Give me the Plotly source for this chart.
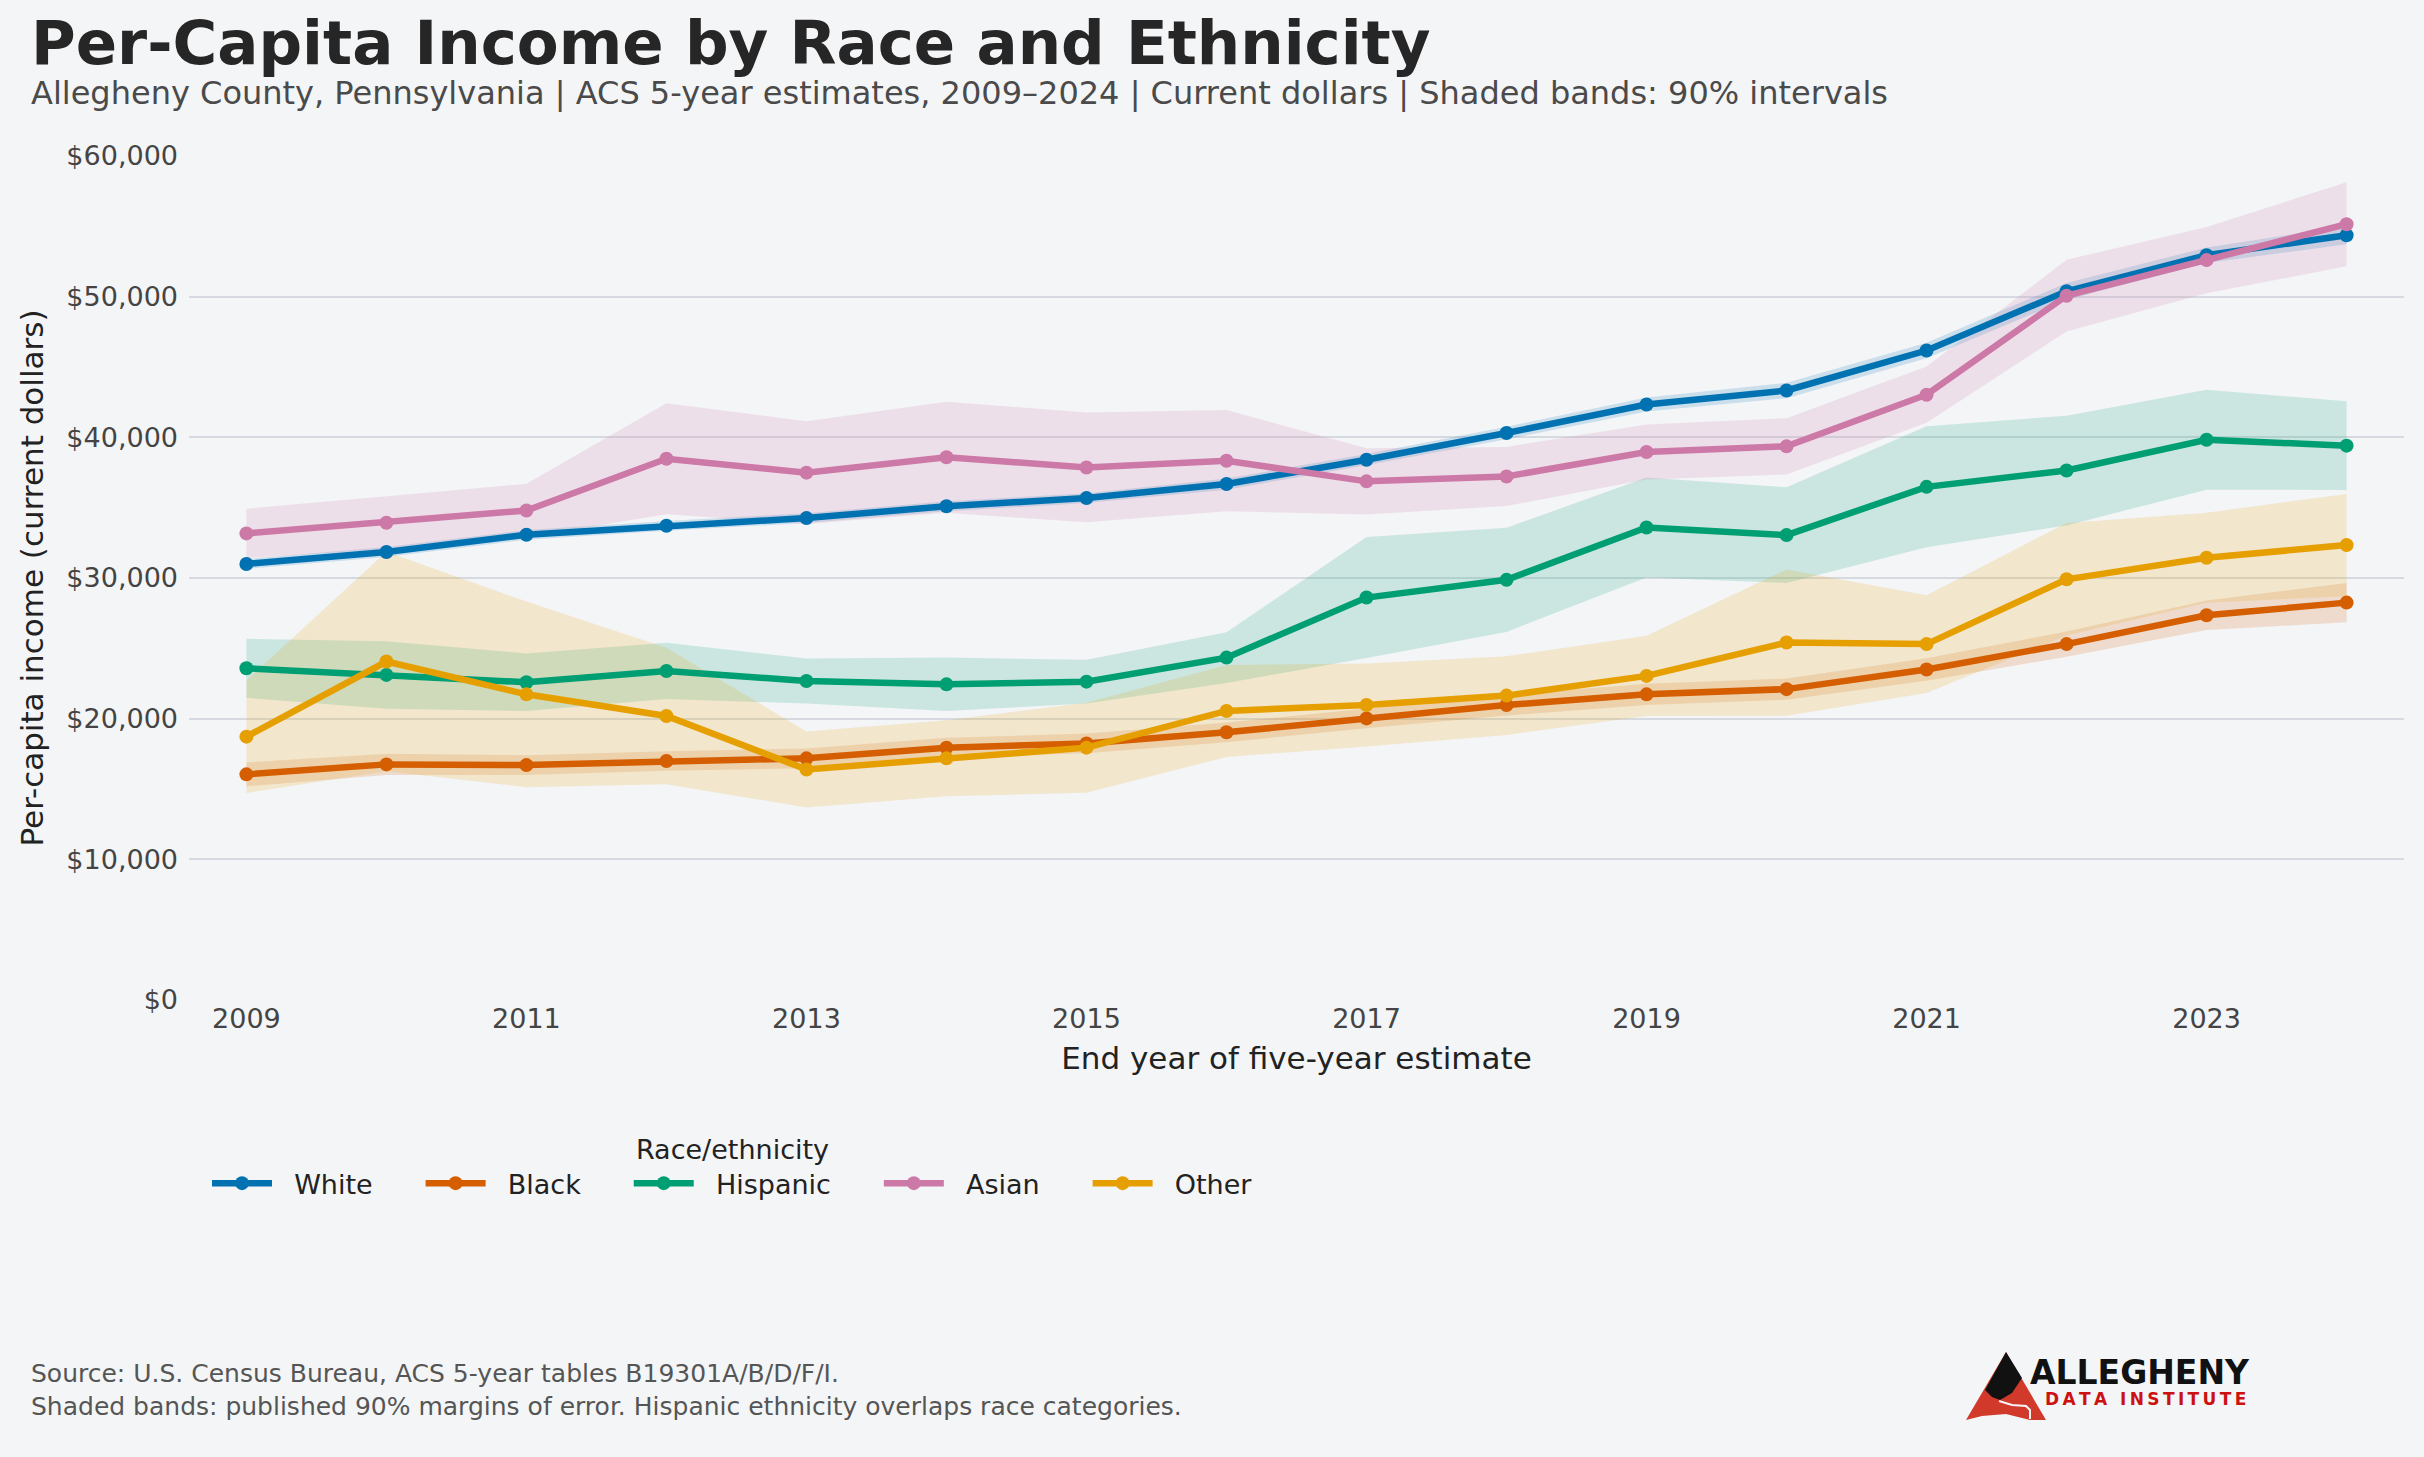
import plotly.graph_objects as go

# ACS 5-year per-capita income, current dollars
years = list(range(2009, 2025))

white = [31000, 31850, 33070, 33710, 34260, 35100, 35680, 36680,
         38410, 40310, 42330, 43330, 46170, 50380, 52950, 54370]
white_moe = [350, 350, 350, 350, 350, 350, 350, 400,
             400, 450, 500, 550, 550, 600, 550, 650]

black = [16040, 16750, 16700, 16990, 17180, 17940, 18240, 19030,
         20020, 20970, 21730, 22100, 23500, 25300, 27350, 28250]
black_moe = [850, 750, 700, 700, 700, 700, 700, 700,
             700, 750, 750, 750, 800, 900, 1050, 1400]

hispanic = [23580, 23110, 22590, 23390, 22680, 22440, 22630, 24340,
            28610, 29870, 33590, 33050, 36480, 37640, 39830, 39410]
hispanic_moe = [2100, 2400, 2050, 2000, 1600, 1900, 1550, 1800,
                4300, 3700, 3550, 3400, 4300, 3900, 3550, 3150]

asian = [33170, 33930, 34800, 38480, 37490, 38580, 37860, 38340,
         36870, 37220, 38960, 39360, 43030, 50070, 52600, 55150]
asian_moe = [1750, 1900, 1900, 3950, 3650, 3950, 3900, 3600,
             2350, 2100, 1950, 2000, 2000, 2550, 2360, 2980]

other = [18720, 24060, 21730, 20190, 16390, 17180, 17940, 20550,
         20970, 21640, 23040, 25410, 25300, 29910, 31440, 32340]
other_moe = [4000, 7800, 6600, 4850, 2700, 2700, 3200, 3270,
             2950, 2800, 2850, 5200, 3470, 4000, 3200, 3640]

groups = ["White", "Black", "Hispanic", "Asian", "Other"]
colors = ["#0072B2", "#D55E00", "#009E73", "#CC79A7", "#E69F00"]
values = [white, black, hispanic, asian, other]
moes = [white_moe, black_moe, hispanic_moe, asian_moe, other_moe]

W, H = 2424, 1457
L, R, T, B = 189, 20, 156, 457
FONT = "DejaVu Sans"
BG = "#f4f5f7"
NBSP = "\u00a0"


def px_x(px):
    # page pixel -> paper x
    return (px - L) / (W - L - R)


def px_y(py):
    # page pixel -> paper y
    return (H - B - py) / (H - B - T)


def rgba(hex_color, alpha):
    h = hex_color.lstrip("#")
    r, g, b = int(h[0:2], 16), int(h[2:4], 16), int(h[4:6], 16)
    return f"rgba({r},{g},{b},{alpha})"


fig = go.Figure()

# shaded 90% bands first
for name, vals, moe, color in zip(groups, values, moes, colors):
    upper = [v + m for v, m in zip(vals, moe)]
    lower = [v - m for v, m in zip(vals, moe)]
    fig.add_trace(
        go.Scatter(
            x=years + years[::-1],
            y=upper + lower[::-1],
            fill="toself",
            fillcolor=rgba(color, 0.17),
            line=dict(width=0),
            hoverinfo="skip",
            showlegend=False,
        )
    )

for i, (name, vals, color) in enumerate(zip(groups, values, colors)):
    # pad legend labels so the entries spread out like the original
    label = NBSP * 2 + name
    if i < len(groups) - 1:
        label += NBSP * 5
    fig.add_trace(
        go.Scatter(
            x=years,
            y=vals,
            mode="lines+markers",
            name=label,
            line=dict(color=color, width=6.5),
            marker=dict(color=color, size=14),
        )
    )

fig.update_xaxes(
    range=[2008.59, 2024.41],
    tick0=2009,
    dtick=2,
    showgrid=False,
    zeroline=False,
    showline=False,
    tickfont=dict(size=27, color="#444444"),
    title=dict(text="End year of five-year estimate",
               font=dict(size=31, color="#222222"), standoff=14),
)
fig.update_yaxes(
    range=[0, 60000],
    tickvals=[0, 10000, 20000, 30000, 40000, 50000, 60000],
    tickformat="$,",
    showgrid=True,
    gridcolor="#d6dae0",
    gridwidth=2,
    zeroline=False,
    showline=False,
    ticklabelstandoff=10,
    tickfont=dict(size=27, color="#444444"),
    title=dict(text="Per-capita income (current dollars)",
               font=dict(size=31, color="#222222"), standoff=13),
)

annotations = [
    dict(text="<b>Per-Capita Income by Race and Ethnicity</b>",
         x=px_x(29), y=px_y(43), xanchor="left", yanchor="middle",
         font=dict(size=61, color="#262626")),
    dict(text="Allegheny County, Pennsylvania | ACS 5-year estimates, 2009–2024 | "
              "Current dollars | Shaded bands: 90% intervals",
         x=px_x(29), y=px_y(93), xanchor="left", yanchor="middle",
         font=dict(size=32, color="#4a4a4a")),
    dict(text="Source: U.S. Census Bureau, ACS 5-year tables B19301A/B/D/F/I.<br>"
              "Shaded bands: published 90% margins of error. "
              "Hispanic ethnicity overlaps race categories.",
         x=px_x(29), y=px_y(1390), xanchor="left", yanchor="middle", align="left",
         font=dict(size=25, color="#555555")),
    dict(text="<b>ALLEGHENY</b>",
         x=px_x(2140), y=px_y(1372), xanchor="center", yanchor="middle",
         font=dict(size=33, color="#111111")),
    dict(text="<b>" + "\u2009".join("DATA INSTITUTE") + "</b>",
         x=px_x(2145), y=px_y(1399), xanchor="center", yanchor="middle",
         font=dict(size=17, color="#cc1111")),
]
for a in annotations:
    a.update(xref="paper", yref="paper", showarrow=False)
    a["font"]["family"] = FONT


def path(points, close=True):
    s = "M " + " L ".join(f"{px_x(x):.5f},{px_y(y):.5f}" for x, y in points)
    return s + (" Z" if close else "")


shapes = [
    # red triangle of the logo
    dict(type="path",
         path=path([(2006, 1352), (2046, 1420), (2030, 1420), (2006, 1414),
                    (1982, 1416), (1966, 1420)]),
         fillcolor="#d13a2b", line=dict(width=0)),
    # black cap of the logo
    dict(type="path",
         path=path([(2006, 1352), (2022, 1378), (2012, 1393), (2000, 1400),
                    (1992, 1397), (1985, 1390)]),
         fillcolor="#111111", line=dict(width=0)),
    # white river line
    dict(type="path",
         path=path([(1999, 1401), (2012, 1405), (2026, 1406), (2030, 1410),
                    (2030, 1419)], close=False),
         line=dict(color="#f4f5f7", width=2)),
]
for s in shapes:
    s.update(xref="paper", yref="paper", layer="above")

fig.update_layout(
    width=W,
    height=H,
    margin=dict(l=L, r=R, t=T, b=B),
    paper_bgcolor=BG,
    plot_bgcolor=BG,
    font=dict(family=FONT, color="#222222"),
    showlegend=True,
    legend=dict(
        orientation="h",
        x=px_x(207),
        y=px_y(1124),
        xanchor="left",
        yanchor="top",
        bgcolor="rgba(0,0,0,0)",
        font=dict(size=27, color="#222222"),
        title=dict(text="Race/ethnicity", side="top center",
                   font=dict(size=27, color="#222222")),
        itemwidth=60,
    ),
    annotations=annotations,
    shapes=shapes,
)

fig.write_html(
    "out.html",
    config={"displayModeBar": False},
    post_script="document.body.style.margin='0';"
                "document.body.style.background='#f4f5f7';",
)
